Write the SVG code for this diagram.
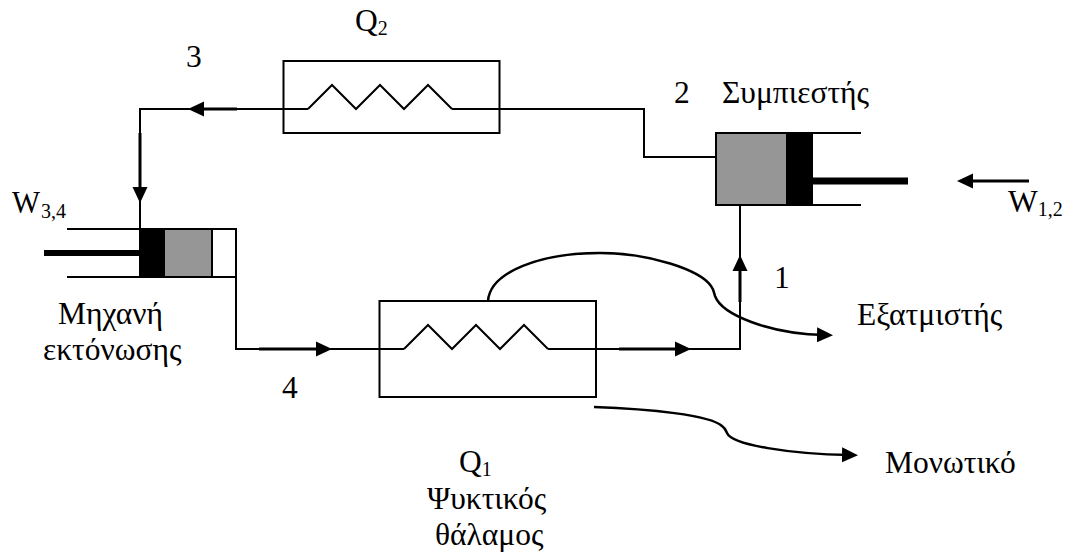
<svg xmlns="http://www.w3.org/2000/svg" width="1069" height="553" viewBox="0 0 1069 553">
<defs>
<marker id="arr" markerUnits="userSpaceOnUse" markerWidth="17" markerHeight="17" refX="8" refY="8" orient="auto"><path d="M0 0.500L16 8L0 15.500Z" fill="#000"/></marker>
</defs>
<style>
text{font-family:"Liberation Serif","Times New Roman",serif;font-size:31.500px;fill:#000}
.s{font-size:20px}
.l{fill:none;stroke:#000;stroke-width:2}
.t{fill:none;stroke:#000;stroke-width:3}
.c{fill:none;stroke:#000;stroke-width:2.500}
</style>
<rect width="1069" height="553" fill="#fff"/>
<g id="connectors">
<path class="l" d="M716 157H644V109H452"/>
<path class="l" d="M308 109H140V229"/>
<path class="l" d="M236 277V349H404"/>
<path class="l" d="M548 349H740V205"/>
<path class="t" d="M237 109H196" marker-end="url(#arr)"/>
<path class="t" d="M140 133V195" marker-end="url(#arr)"/>
<path class="t" d="M259 349H324" marker-end="url(#arr)"/>
<path class="t" d="M619 349H683" marker-end="url(#arr)"/>
<path class="t" d="M740 302V263" marker-end="url(#arr)"/>
<path class="c" d="M488 301C490 272 540 253 600 253C650 253 700 270 711 286C714 290 714 293 715 296C722 315 770 334 825 335" marker-end="url(#arr)"/>
<path class="c" d="M594 407C650 409 710 415 722 426C726 429 726 431 727 433C732 445 790 454 850 455" marker-end="url(#arr)"/>
<path class="t" d="M1029 181H965" marker-end="url(#arr)"/>
</g>
<g id="condenser">
<rect class="l" x="283.500" y="61" width="216" height="72"/>
<path class="l" d="M308 109L332 85L356 109L380 85L404 109L428 85L452 109"/>
<text x="355" y="31">Q<tspan class="s" dy="4">2</tspan></text>
</g>
<g id="compressor">
<path class="l" d="M787 133H861M787 205H861"/>
<rect x="716" y="133" width="71" height="72" fill="#969696" stroke="#000" stroke-width="2"/>
<rect x="787" y="132" width="26" height="74" fill="#000"/>
<rect x="812" y="177.500" width="96" height="7" fill="#000"/>
<text x="722" y="103">Συμπιεστής</text>
</g>
<g id="expander">
<path class="l" d="M67 229H236V277H67"/>
<rect x="164" y="229" width="48" height="48" fill="#969696" stroke="#000" stroke-width="2"/>
<rect x="139" y="228" width="26" height="50" fill="#000"/>
<rect x="44" y="250" width="96" height="6" fill="#000"/>
<text x="58" y="324">Μηχανή</text>
<text x="43" y="360">εκτόνωσης</text>
</g>
<g id="evaporator">
<rect class="l" x="379.500" y="301" width="216.500" height="96"/>
<path class="l" d="M404 349L428 325L452 349L476 325L500 349L524 325L548 349"/>
<text x="459" y="472">Q<tspan class="s" dy="4">1</tspan></text>
<text x="427" y="509">Ψυκτικός</text>
<text x="435" y="545">θάλαμος</text>
</g>
<g id="labels">
<text x="186" y="67">3</text>
<text x="674" y="103">2</text>
<text x="774" y="288">1</text>
<text x="282" y="398">4</text>
<text x="12" y="213" textLength="28" lengthAdjust="spacingAndGlyphs">W</text>
<text x="41" y="218" class="s">3,4</text>
<text x="1008" y="212">W<tspan class="s" dy="4">1,2</tspan></text>
<text x="857" y="325">Εξατμιστής</text>
<text x="885" y="473">Μονωτικό</text>
</g>
</svg>
